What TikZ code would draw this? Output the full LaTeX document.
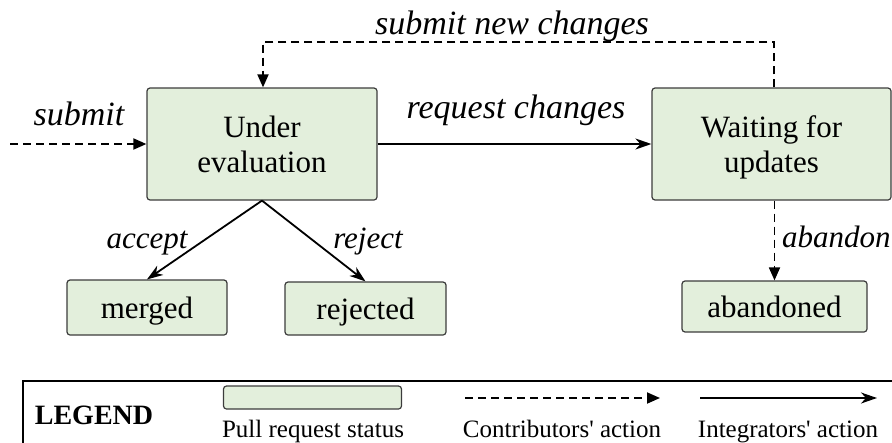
\documentclass[tikz,border=0pt]{standalone}
\usepackage{fontspec}
\setmainfont{Liberation Serif}
\usetikzlibrary{arrows.meta}
\definecolor{boxfill}{RGB}{227,239,220}
\definecolor{boxline}{RGB}{60,60,60}
\begin{document}
\begin{tikzpicture}[x=1pt,y=-1pt,
 status/.style={draw=boxline, line width=1.2pt, fill=boxfill, rounded corners=3pt, inner sep=0pt, align=center, text depth=0pt, font=\fontsize{31}{35}\selectfont},
 contrib/.style={line width=1.8pt, dash pattern=on 8pt off 5pt, -{Triangle[length=13pt,width=11pt]}},
 integr/.style={line width=1.8pt, -{Stealth[length=16pt,width=11pt,inset=5pt]}},
 lbl/.style={font=\itshape\fontsize{34}{40}\selectfont, inner sep=0pt, anchor=base},
 slbl/.style={font=\itshape\fontsize{31}{36}\selectfont, inner sep=0pt, anchor=base},
 legtxt/.style={font=\fontsize{25}{30}\selectfont, inner sep=0pt, anchor=base},
]
\useasboundingbox (0,0) rectangle (892,442);
\clip (0,0) rectangle (892,442);
% legend frame
\node[draw=black, line width=1.5pt, minimum width=900pt, minimum height=100pt, anchor=north west, inner sep=0pt] (legend) at (22,380) {};
% status nodes
\node[status, minimum width=230pt, minimum height=112pt] (under) at (262,144) {Under\\evaluation};
\node[status, minimum width=239pt, minimum height=112pt] (waiting) at (771.5,144) {Waiting for\\updates};
\node[status, minimum width=160pt, minimum height=55pt] (merged) at (147,307.5) {merged};
\node[status, minimum width=161pt, minimum height=53pt] (rejected) at (365.5,308.5) {rejected};
\node[status, minimum width=185pt, minimum height=51pt] (abandoned) at (774.5,306.5) {abandoned};
% connectors
\coordinate (start) at (10,144);
\draw[contrib] (start) -- (under.west);
\draw[integr] (under.east) -- (waiting.west);
\coordinate (loopR) at (774,42);
\coordinate (loopL) at (263,42);
\draw[contrib] (loopR |- waiting.north) -- (loopR) -- (loopL) -- (loopL |- under.north);
\draw[integr] (under.south) -- (merged.north);
\draw[integr] (under.south) -- (rejected.north);
\draw[contrib] (abandoned.north |- waiting.south) -- (abandoned.north);
% labels
\node[lbl] (lsubmitnew) at (512,34) {submit new changes};
\node[lbl] (lsubmit) at (79,125) {submit};
\node[lbl] (lrequest) at (516,118) {request changes};
\node[slbl] (laccept) at (147,248) {accept};
\node[slbl] (lreject) at (368,248) {reject};
\node[slbl, anchor=base west] (labandon) at (782,247) {abandon};
% legend content
\node[font=\bfseries\fontsize{28}{32}\selectfont, anchor=base, inner sep=0pt] (legendtitle) at (94,424) {LEGEND};
\node[status, minimum width=178pt, minimum height=23pt] (legbox) at (312.5,397.5) {};
\node[legtxt] (legstatus) at (313,437) {Pull request status};
\coordinate (ca) at (465,398);
\coordinate (cb) at (660,398);
\draw[contrib] (ca) -- (cb);
\node[legtxt] (legcontrib) at (562,437) {Contributors\textquotesingle\ action};
\coordinate (ia) at (700,398);
\coordinate (ib) at (877,398);
\draw[integr] (ia) -- (ib);
\node[legtxt] (leginteg) at (788,437) {Integrators\textquotesingle\ action};
\end{tikzpicture}
\end{document}
